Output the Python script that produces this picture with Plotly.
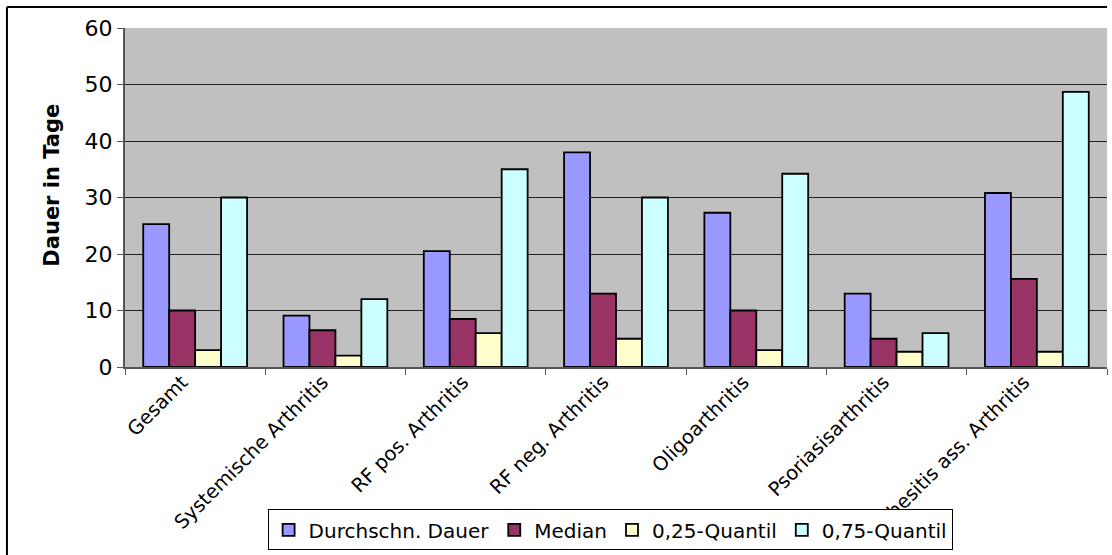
import plotly.graph_objects as go

categories = [
    "Gesamt",
    "Systemische Arthritis",
    "RF pos. Arthritis",
    "RF neg. Arthritis",
    "Oligoarthritis",
    "Psoriasisarthritis",
    "Enthesitis ass. Arthritis",
]
durchschn_dauer = [25.3, 9.1, 20.5, 38.0, 27.3, 13.0, 30.8]
median = [10.0, 6.5, 8.5, 13.0, 10.0, 5.0, 15.6]
quantil_025 = [3.0, 2.0, 6.0, 5.0, 3.0, 2.7, 2.7]
quantil_075 = [30.0, 12.0, 35.0, 30.0, 34.2, 6.0, 48.7]

series = [
    ("Durchschn. Dauer", durchschn_dauer, "#9999FF"),
    ("Median", median, "#993366"),
    ("0,25-Quantil", quantil_025, "#FFFFCC"),
    ("0,75-Quantil", quantil_075, "#CCFFFF"),
]

fig = go.Figure()
for name, vals, color in series:
    fig.add_trace(go.Bar(
        x=categories, y=vals, name=name,
        marker=dict(color=color, line=dict(color="#000000", width=1.8)),
    ))

font = "DejaVu Sans, Verdana, sans-serif"

fig.update_layout(
    width=1112, height=555,
    margin=dict(l=125, r=5, t=28, b=188, autoexpand=False),
    paper_bgcolor="white",
    plot_bgcolor="#C0C0C0",
    barmode="group",
    bargap=0.26,
    bargroupgap=0,
    font=dict(family=font, color="black"),
    showlegend=True,
    legend=dict(
        orientation="h",
        x=0.494, xanchor="center",
        y=-0.42, yanchor="top",
        bgcolor="white",
        bordercolor="black", borderwidth=1,
        font=dict(size=20, family=font),
        itemwidth=30,
        traceorder="normal",
    ),
    xaxis=dict(
        type="category",
        automargin=False,
        tickangle=-45,
        tickfont=dict(size=19.5, family=font),
        ticklabelshift=-13,
        ticklabelstandoff=-6,
        ticks="outside", tickson="boundaries", ticklen=6, tickcolor="#555555",
        showline=True, linecolor="#555555", linewidth=2,
        showgrid=False,
    ),
    yaxis=dict(
        range=[0, 60],
        dtick=10,
        automargin=False,
        tickfont=dict(size=22, family=font),
        ticks="outside", ticklen=6, tickcolor="#555555",
        showline=True, linecolor="#555555", linewidth=2,
        showgrid=True, gridcolor="#222222", gridwidth=1,
        zeroline=False,
    ),
    annotations=[dict(
        text="<b>Dauer in Tage</b>",
        xref="paper", yref="paper",
        x=-0.0743, y=0.535,
        xanchor="center", yanchor="middle",
        textangle=-90,
        showarrow=False,
        font=dict(size=21, family=font),
    )],
)

# outer frame of the chart (top and left edges)
fig.add_shape(type="line", xref="paper", yref="paper",
              x0=-0.1202, x1=1.0, y0=1.0619, y1=1.0619,
              line=dict(color="black", width=2))
fig.add_shape(type="line", xref="paper", yref="paper",
              x0=-0.1202, x1=-0.1202, y0=1.0619, y1=-0.56,
              line=dict(color="black", width=2))

fig.write_html("out.html")
